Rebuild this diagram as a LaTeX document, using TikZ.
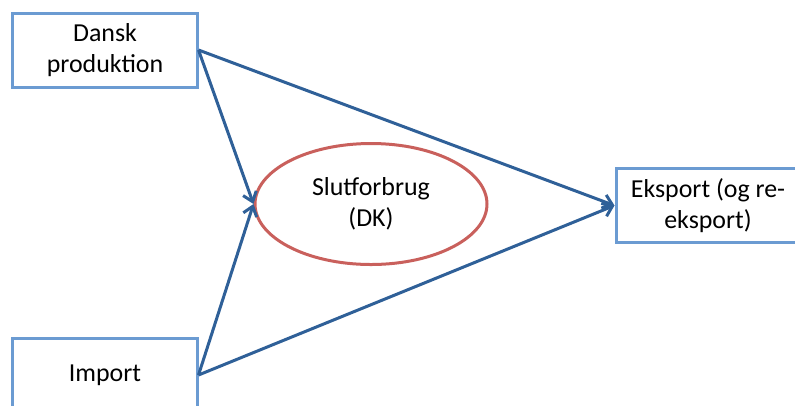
\documentclass[tikz,border=0pt]{standalone}
\usepackage{fontspec}
\setmainfont{Carlito}
\usetikzlibrary{shapes.geometric,arrows.meta}
\definecolor{boxblue}{HTML}{6B9BD2}
\definecolor{flowblue}{HTML}{2F6098}
\definecolor{ovalred}{HTML}{C9605C}
\tikzset{
  sektor/.style={draw=boxblue, line width=3bp, minimum width=184bp, minimum height=74bp,
    align=center, font=\fontsize{26}{31}\selectfont},
  strom/.style={flowblue, line width=3bp, -{Straight Barb[length=9bp,width=14bp]}}
}
\begin{document}
\begin{tikzpicture}[x=1bp,y=-1bp]
\useasboundingbox (0,0) rectangle (795,405);
\node[sektor] (dansk) at (105,50) {Dansk\\produktion};
\node[sektor] (import) at (105,375) {Import};
\node[sektor] (eksport) at (708,205.5) {Eksport (og re-\\eksport)};
\node[draw=ovalred, line width=3bp, ellipse, minimum width=232bp, minimum height=121bp,
  align=center, font=\fontsize{26}{31}\selectfont] (slut) at (371,204) {Slutforbrug\\(DK)};
% strømme
\draw[strom] (dansk.east) -- (eksport.west);
\draw[strom] (dansk.east) -- (slut.west);
\draw[strom] (import.east) -- (slut.west);
\draw[strom] (import.east) -- (eksport.west);
\end{tikzpicture}
\end{document}
